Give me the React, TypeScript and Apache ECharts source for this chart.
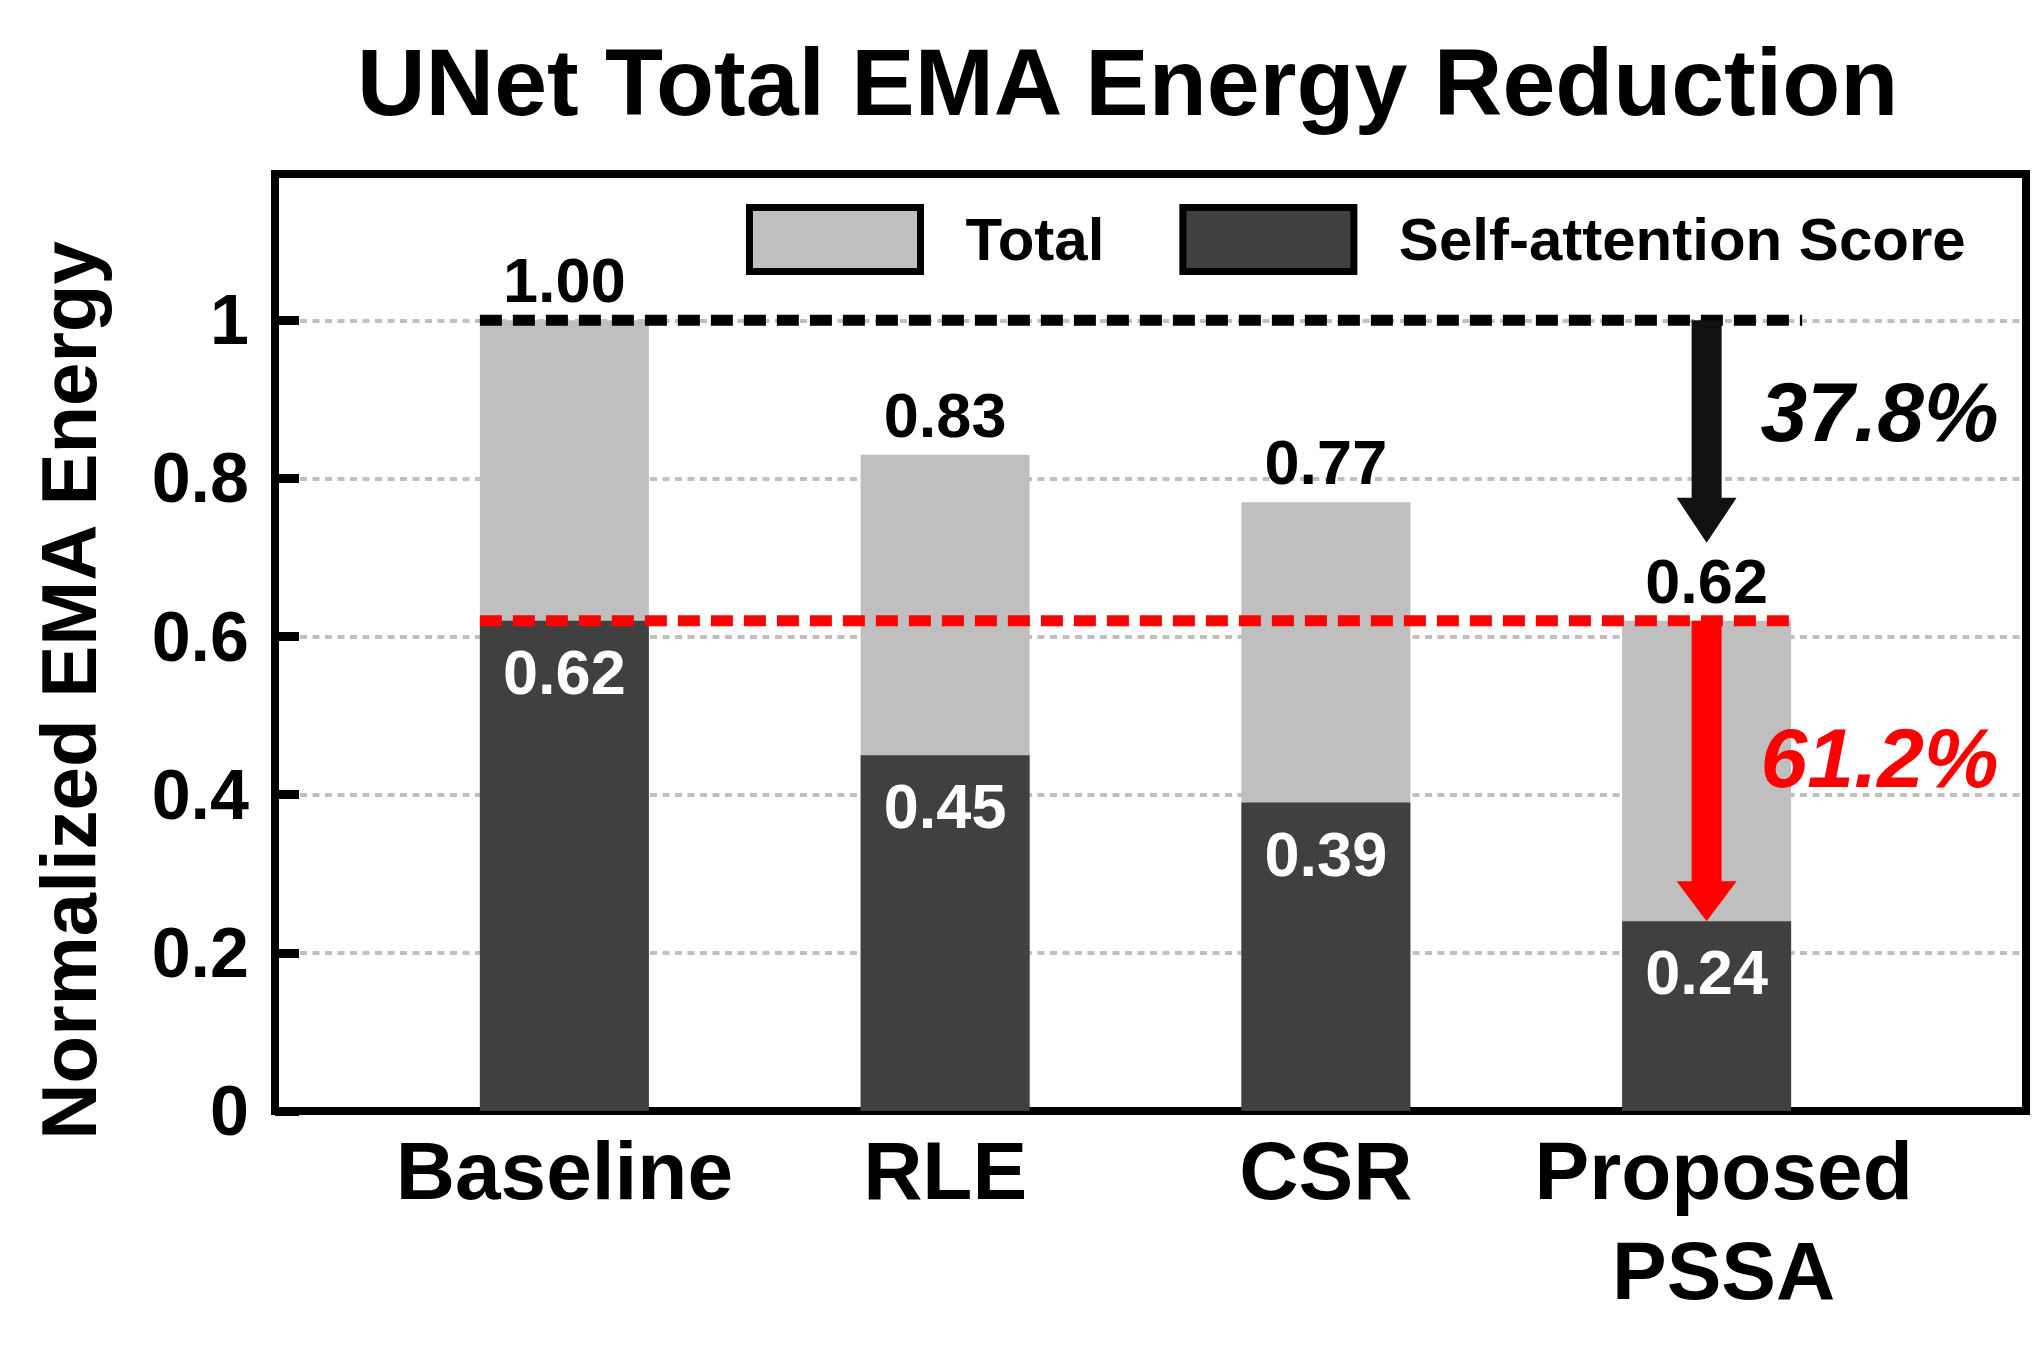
import React, { useEffect, useRef } from 'react';
import * as echarts from 'echarts';

const titleText = 'UNet Total EMA Energy Reduction';
const yAxisName = 'Normalized EMA Energy';
const categories = ['Baseline', 'RLE', 'CSR', 'Proposed\nPSSA'];
const seriesNames = ['Total', 'Self-attention Score'];
const totalValues = [1.0, 0.83, 0.77, 0.62];
const selfAttentionValues = [0.62, 0.45, 0.39, 0.24];
const yTickLabels = ['0', '0.2', '0.4', '0.6', '0.8', '1'];
const reductionLabels = ['37.8%', '61.2%'];

const FONT = '"Liberation Sans", Arial, Helvetica, sans-serif';
const BAR_WIDTH = 169;
const Y_MAX = 1.185;

export default function App() {
  const ref = useRef<HTMLDivElement>(null);

  useEffect(() => {
    document.body.style.margin = '0';
    const chart = echarts.init(ref.current as HTMLDivElement, undefined, { renderer: 'svg' });

    const categoryData = categories.map((c, i) =>
      i === categories.length - 1
        ? { value: c, textStyle: { padding: [0, 0, 0, 34] } }
        : c
    );

    const option: any = {
      animation: false,
      backgroundColor: '#ffffff',
      title: {
        text: titleText,
        left: 357,
        top: 27,
        padding: 0,
        textStyle: {
          fontFamily: FONT,
          fontSize: 95,
          fontWeight: 'bold',
          color: '#000',
          lineHeight: 110,
        },
      },
      legend: {
        data: seriesNames,
        left: 746,
        top: 204,
        padding: 0,
        icon: 'rect',
        itemWidth: 171,
        itemHeight: 64,
        itemGap: 75,
        itemStyle: { borderColor: '#000', borderWidth: 7 },
        textStyle: {
          fontFamily: FONT,
          fontSize: 60,
          fontWeight: 'bold',
          color: '#000',
          lineHeight: 64,
          padding: [0, 0, 0, 40],
        },
      },
      grid: [
        {
          left: 275,
          top: 174,
          width: 1751,
          height: 937,
          show: true,
          borderColor: '#000',
          borderWidth: 8,
          backgroundColor: 'transparent',
          z: 3,
        },
        {
          left: 374,
          right: 143,
          top: 174,
          height: 937,
        },
      ],
      xAxis: [
        { type: 'value', gridIndex: 0, show: false, min: 0, max: 1 },
        {
          type: 'category',
          gridIndex: 1,
          data: categoryData,
          axisLine: { show: false },
          axisTick: { show: false },
          axisLabel: {
            margin: 9,
            interval: 0,
            fontFamily: FONT,
            fontSize: 82,
            fontWeight: 'bold',
            color: '#000',
            lineHeight: 100,
          },
        },
      ],
      yAxis: [
        {
          type: 'value',
          gridIndex: 0,
          min: 0,
          max: Y_MAX,
          interval: 0.2,
          name: yAxisName,
          nameLocation: 'middle',
          nameRotate: 90,
          nameGap: 167,
          nameTextStyle: {
            fontFamily: FONT,
            fontSize: 78,
            fontWeight: 'bold',
            color: '#000',
            padding: [0, 96, 0, 0],
          },
          axisLine: { show: false },
          axisTick: {
            show: true,
            inside: true,
            length: 24,
            lineStyle: { color: '#000', width: 9 },
          },
          axisLabel: {
            margin: 26,
            fontFamily: FONT,
            fontSize: 70,
            fontWeight: 'bold',
            color: '#000',
            showMaxLabel: false,
            formatter: (v: number) => {
              const i = Math.round(v / 0.2);
              if (Math.abs(v - i * 0.2) < 1e-6 && i < yTickLabels.length) return yTickLabels[i];
              return '';
            },
          },
          splitLine: {
            show: true,
            lineStyle: { color: '#c0c0c0', width: 4, type: [7, 5.5] },
          },
        },
        {
          type: 'value',
          gridIndex: 1,
          min: 0,
          max: Y_MAX,
          interval: 0.2,
          show: false,
          splitLine: { show: false },
        },
      ],
      series: [
        {
          name: seriesNames[0],
          type: 'bar',
          xAxisIndex: 1,
          yAxisIndex: 1,
          data: totalValues,
          barWidth: BAR_WIDTH,
          barGap: '-100%',
          itemStyle: { color: '#bfbfbf' },
          z: 2,
          label: {
            show: true,
            position: 'top',
            distance: 5,
            fontFamily: FONT,
            fontSize: 63,
            fontWeight: 'bold',
            color: '#000',
            lineHeight: 70,
            formatter: (p: any) => Number(p.value).toFixed(2),
          },
        },
        {
          name: seriesNames[1],
          type: 'bar',
          xAxisIndex: 1,
          yAxisIndex: 1,
          data: selfAttentionValues,
          barWidth: BAR_WIDTH,
          barGap: '-100%',
          itemStyle: { color: '#404040' },
          z: 3,
          label: {
            show: true,
            position: 'insideTop',
            distance: 16,
            fontFamily: FONT,
            fontSize: 63,
            fontWeight: 'bold',
            color: '#fff',
            lineHeight: 70,
            formatter: (p: any) => Number(p.value).toFixed(2),
          },
        },
        {
          type: 'custom',
          xAxisIndex: 1,
          yAxisIndex: 1,
          z: 10,
          silent: true,
          clip: false,
          data: [[3, totalValues[3]]],
          renderItem: (_params: any, api: any) => {
            const [xBase, yTop] = api.coord([0, totalValues[0]]);
            const [, yRed] = api.coord([0, selfAttentionValues[0]]);
            const [xProp, yPropTotal] = api.coord([3, totalValues[3]]);
            const [, yPropSelf] = api.coord([3, selfAttentionValues[3]]);
            const left = xBase - BAR_WIDTH / 2;
            const right = xProp + BAR_WIDTH / 2;
            const blackTip = yPropTotal - 78;
            const sw = 15;
            const hw = 30;
            const bh = 45;
            const rh = 40;
            const textX = xProp + 173;
            return {
              type: 'group',
              children: [
                {
                  type: 'line',
                  shape: { x1: left, y1: yTop, x2: right + 11, y2: yTop },
                  style: { stroke: '#000', lineWidth: 11, lineDash: [22, 11] },
                },
                {
                  type: 'line',
                  shape: { x1: left, y1: yRed, x2: right, y2: yRed },
                  style: { stroke: '#ff0000', lineWidth: 11, lineDash: [22, 11] },
                },
                {
                  type: 'polygon',
                  shape: {
                    points: [
                      [xProp - sw, yTop],
                      [xProp + sw, yTop],
                      [xProp + sw, blackTip - bh],
                      [xProp + hw, blackTip - bh],
                      [xProp, blackTip],
                      [xProp - hw, blackTip - bh],
                      [xProp - sw, blackTip - bh],
                    ],
                  },
                  style: { fill: '#111111' },
                },
                {
                  type: 'polygon',
                  shape: {
                    points: [
                      [xProp - sw, yRed],
                      [xProp + sw, yRed],
                      [xProp + sw, yPropSelf - rh],
                      [xProp + hw, yPropSelf - rh],
                      [xProp, yPropSelf],
                      [xProp - hw, yPropSelf - rh],
                      [xProp - sw, yPropSelf - rh],
                    ],
                  },
                  style: { fill: '#ff0000' },
                },
                {
                  type: 'text',
                  style: {
                    x: textX,
                    y: (yTop + blackTip) / 2 - 20,
                    text: reductionLabels[0],
                    fill: '#000',
                    fontFamily: FONT,
                    fontSize: 84,
                    fontWeight: 'bold',
                    fontStyle: 'italic',
                    align: 'center',
                    verticalAlign: 'middle',
                  },
                },
                {
                  type: 'text',
                  style: {
                    x: textX,
                    y: (yRed + yPropSelf) / 2 - 13,
                    text: reductionLabels[1],
                    fill: '#ff0000',
                    fontFamily: FONT,
                    fontSize: 84,
                    fontWeight: 'bold',
                    fontStyle: 'italic',
                    align: 'center',
                    verticalAlign: 'middle',
                  },
                },
              ],
            };
          },
        },
      ],
    };

    chart.setOption(option);
    return () => chart.dispose();
  }, []);

  return (
    <div
      ref={ref}
      style={{ position: 'absolute', left: 0, top: 0, width: 2040, height: 1358 }}
    />
  );
}
